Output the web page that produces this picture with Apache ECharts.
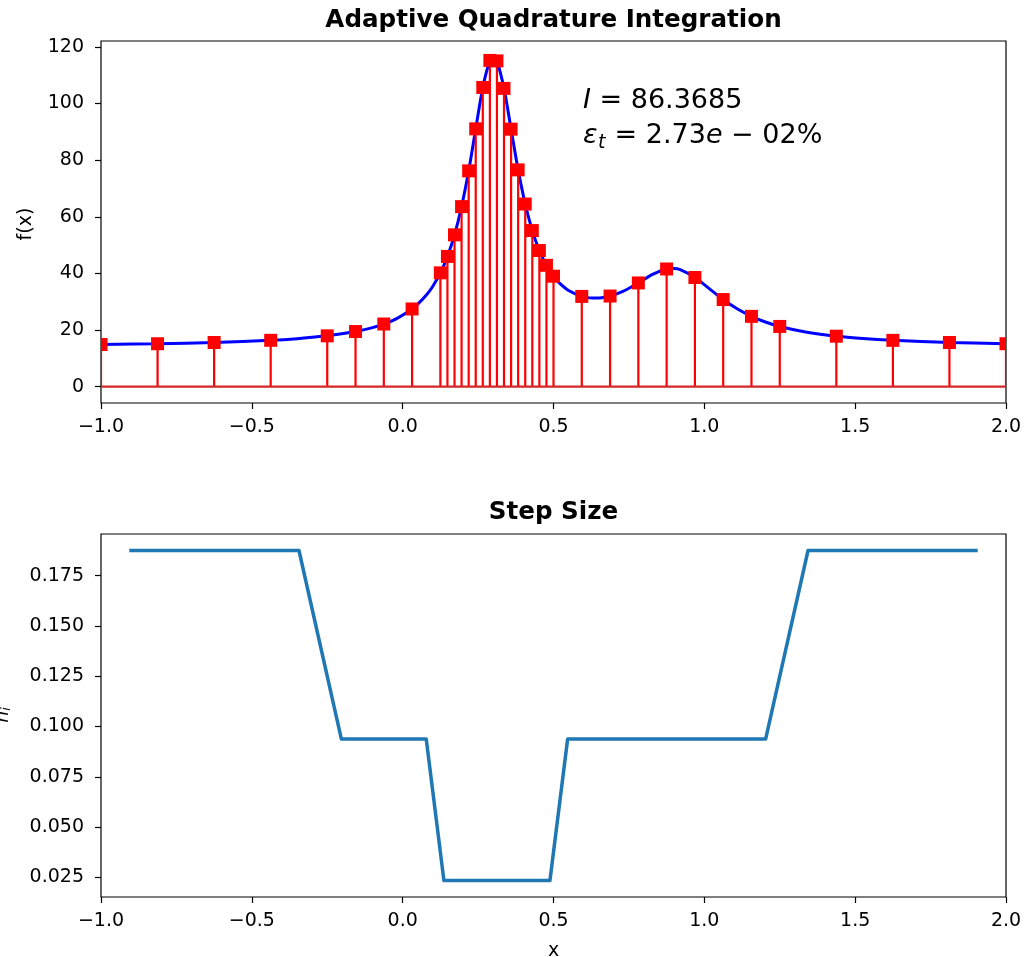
<!DOCTYPE html>
<html>
<head>
<meta charset="utf-8">
<script src="https://cdn.jsdelivr.net/npm/echarts@6/dist/echarts.min.js"></script>
<style>
  html, body { margin: 0; padding: 0; background: #fff; }
  #chart { width: 1034px; height: 957px; }
</style>
</head>
<body>
<div id="chart"></div>
<script>
// quadrature nodes and f(x) at each node
const nodeX = [-1, -0.8125, -0.625, -0.4375, -0.25, -0.15625, -0.0625, 0.03125,
  0.125, 0.1484, 0.1719, 0.1953, 0.2188, 0.2422, 0.2656, 0.2891, 0.3125, 0.3359,
  0.3594, 0.3828, 0.4063, 0.4297, 0.4531, 0.4766, 0.5,
  0.59375, 0.6875, 0.78125, 0.875, 0.96875, 1.0625, 1.15625, 1.25,
  1.4375, 1.625, 1.8125, 2];
const nodeY = [14.86, 15.14, 15.58, 16.35, 17.93, 19.45, 22.11, 27.42,
  40.18, 45.98, 53.61, 63.58, 76.22, 91.06, 105.69, 115.24, 115.06, 105.35,
  90.95, 76.57, 64.50, 55.12, 48.07, 42.85, 39.0,
  31.86, 31.99, 36.62, 41.55, 38.55, 30.75, 24.81, 21.25,
  17.81, 16.33, 15.58, 15.15];

// the blue curve
const curveX = [-1, -0.8125, -0.625, -0.4375, -0.35, -0.25, -0.15625, -0.1, -0.0625, -0.02,
  0.03125, 0.05, 0.08, 0.1, 0.125, 0.1484, 0.1719, 0.1953, 0.2188, 0.2422, 0.2656,
  0.2891, 0.3, 0.3125, 0.3359, 0.3594, 0.3828, 0.4063, 0.4297, 0.4531, 0.4766, 0.5,
  0.52, 0.55, 0.59375, 0.62, 0.64, 0.66, 0.6875, 0.73, 0.78125, 0.83, 0.875, 0.9, 0.92,
  0.96875, 1.01, 1.0625, 1.11, 1.15625, 1.2, 1.25, 1.34, 1.4375, 1.55, 1.625, 1.8125, 2];
const curveY = [14.86, 15.14, 15.58, 16.35, 16.94, 17.93, 19.45, 20.84, 22.11, 24.03,
  27.42, 29.11, 32.53, 35.47, 40.18, 45.98, 53.61, 63.58, 76.22, 91.06, 105.69,
  115.24, 116.5, 115.06, 105.35, 90.95, 76.57, 64.50, 55.12, 48.07, 42.85, 39.0,
  36.54, 33.95, 31.86, 31.34, 31.26, 31.41, 31.99, 33.65, 36.62, 39.71, 41.55, 41.70, 41.29,
  38.55, 35.14, 30.75, 27.39, 24.81, 22.91, 21.25, 19.20, 17.81, 16.80, 16.33, 15.58, 15.15];

// step size per interval, plotted at interval midpoints
const stepX = [-0.90625, -0.71875, -0.53125, -0.34375,
  -0.203125, -0.109375, -0.015625, 0.078125,
  0.13671875, 0.16015625, 0.18359375, 0.20703125, 0.23046875, 0.25390625, 0.27734375, 0.30078125,
  0.32421875, 0.34765625, 0.37109375, 0.39453125, 0.41796875, 0.44140625, 0.46484375, 0.48828125,
  0.546875, 0.640625, 0.734375, 0.828125, 0.921875, 1.015625, 1.109375, 1.203125,
  1.34375, 1.53125, 1.71875, 1.90625];
const stepH = [0.1875, 0.1875, 0.1875, 0.1875,
  0.09375, 0.09375, 0.09375, 0.09375,
  0.0234375, 0.0234375, 0.0234375, 0.0234375, 0.0234375, 0.0234375, 0.0234375, 0.0234375,
  0.0234375, 0.0234375, 0.0234375, 0.0234375, 0.0234375, 0.0234375, 0.0234375, 0.0234375,
  0.09375, 0.09375, 0.09375, 0.09375, 0.09375, 0.09375, 0.09375, 0.09375,
  0.1875, 0.1875, 0.1875, 0.1875];

const xTicks = [-1, -0.5, 0, 0.5, 1, 1.5, 2];
const topYTicks = [0, 20, 40, 60, 80, 100, 120];
const bottomYTicks = [0.025, 0.05, 0.075, 0.1, 0.125, 0.15, 0.175];

const FONT = 'DejaVu Sans';
const TICK_SIZE = 19;

function minus (v, digits) {
  const s = Math.abs(v).toFixed(digits);
  return v < 0 ? '\u2212' + s : s;
}

function xAxisCfg (idx) {
  return {
    type: 'value', gridIndex: idx, min: -1, max: 2, position: 'bottom',
    axisLine: { show: false, onZero: false },
    axisTick: { show: true, customValues: xTicks, length: 6, lineStyle: { color: '#000', width: 1.2 } },
    axisLabel: {
      customValues: xTicks, margin: 15, color: '#000', fontFamily: FONT, fontSize: TICK_SIZE,
      formatter: v => minus(v, 1)
    },
    splitLine: { show: false }
  };
}

function yAxisCfg (idx, min, max, ticks, digits) {
  return {
    type: 'value', gridIndex: idx, min: min, max: max, position: 'left',
    axisLine: { show: false, onZero: false },
    axisTick: { show: true, customValues: ticks, length: 6, lineStyle: { color: '#000', width: 1.2 } },
    axisLabel: {
      customValues: ticks, margin: 17, color: '#000', fontFamily: FONT, fontSize: TICK_SIZE,
      formatter: v => minus(v, digits)
    },
    splitLine: { show: false }
  };
}

const chart = echarts.init(document.getElementById('chart'), null, { renderer: 'canvas' });

chart.setOption({
  animation: false,
  backgroundColor: '#fff',
  grid: [
    { left: 101, top: 41, width: 905, height: 362, show: true, borderColor: '#000', borderWidth: 1.2, backgroundColor: 'transparent' },
    { left: 101, top: 534, width: 905, height: 363, show: true, borderColor: '#000', borderWidth: 1.2, backgroundColor: 'transparent' }
  ],
  xAxis: [xAxisCfg(0), xAxisCfg(1)],
  yAxis: [
    yAxisCfg(0, -5.8, 122.1, topYTicks, 0),
    yAxisCfg(1, 0.01523, 0.1957, bottomYTicks, 3)
  ],
  series: [
    {
      type: 'line', xAxisIndex: 0, yAxisIndex: 0, z: 2,
      data: curveX.map((x, i) => [x, curveY[i]]),
      showSymbol: false, smooth: 0.3,
      lineStyle: { color: '#0000ff', width: 3 }
    },
    {
      // stems
      type: 'custom', xAxisIndex: 0, yAxisIndex: 0, z: 3, clip: true,
      data: nodeX.map((x, i) => [x, nodeY[i]]),
      renderItem: (params, api) => {
        const p0 = api.coord([api.value(0), 0]);
        const p1 = api.coord([api.value(0), api.value(1)]);
        return {
          type: 'line',
          shape: { x1: p0[0], y1: p0[1], x2: p1[0], y2: p1[1] },
          style: { stroke: '#ff0000', lineWidth: 2.2 }
        };
      }
    },
    {
      // square markers
      type: 'custom', xAxisIndex: 0, yAxisIndex: 0, z: 4, clip: true,
      data: nodeX.map((x, i) => [x, nodeY[i]]),
      renderItem: (params, api) => {
        const p = api.coord([api.value(0), api.value(1)]);
        return {
          type: 'rect',
          shape: { x: p[0] - 6.5, y: p[1] - 6.5, width: 13, height: 13 },
          style: { fill: '#ff0000' }
        };
      }
    },
    {
      // baseline
      type: 'line', xAxisIndex: 0, yAxisIndex: 0, z: 5,
      data: [[-1, 0], [2, 0]],
      showSymbol: false,
      lineStyle: { color: '#d62728', width: 2.2 }
    },
    {
      type: 'line', xAxisIndex: 1, yAxisIndex: 1,
      data: stepX.map((x, i) => [x, stepH[i]]),
      showSymbol: false,
      lineStyle: { color: '#1f77b4', width: 3.5, join: 'round' }
    }
  ],
  graphic: [
    {
      type: 'text', x: 553.5, y: 21,
      style: { text: 'Adaptive Quadrature Integration', fontFamily: FONT, fontWeight: 'bold', fontSize: 24.6,
        fill: '#000', textAlign: 'center', textVerticalAlign: 'middle' }
    },
    {
      type: 'text', x: 553.5, y: 513,
      style: { text: 'Step Size', fontFamily: FONT, fontWeight: 'bold', fontSize: 24.6,
        fill: '#000', textAlign: 'center', textVerticalAlign: 'middle' }
    },
    {
      type: 'text', x: 26.5, y: 224, rotation: Math.PI / 2,
      style: { text: 'f(x)', fontFamily: FONT, fontSize: TICK_SIZE, fill: '#000',
        textAlign: 'center', textVerticalAlign: 'middle' }
    },
    {
      type: 'text', x: 3, y: 715, rotation: Math.PI / 2,
      style: {
        text: '{h|h}{i|i}', fill: '#000', textAlign: 'center', textVerticalAlign: 'middle',
        rich: {
          h: { fontFamily: FONT, fontStyle: 'italic', fontSize: TICK_SIZE },
          i: { fontFamily: FONT, fontStyle: 'italic', fontSize: 13, padding: [8, 0, 0, 0] }
        }
      }
    },
    {
      type: 'text', x: 553.5, y: 951,
      style: { text: 'x', fontFamily: FONT, fontSize: TICK_SIZE, fill: '#000',
        textAlign: 'center', textVerticalAlign: 'middle' }
    },
    {
      type: 'text', x: 583, y: 101,
      style: {
        text: '{it|I}{n| = 86.3685}', fill: '#000', textAlign: 'left', textVerticalAlign: 'middle',
        rich: {
          it: { fontFamily: FONT, fontStyle: 'italic', fontSize: 27 },
          n: { fontFamily: FONT, fontSize: 27 }
        }
      }
    },
    {
      type: 'text', x: 583, y: 136,
      style: { text: '\u03b5', fontFamily: FONT, fontStyle: 'italic', fontSize: 27, fill: '#000',
        textAlign: 'left', textVerticalAlign: 'middle' }
    },
    {
      type: 'text', x: 598, y: 143,
      style: { text: 't', fontFamily: FONT, fontStyle: 'italic', fontSize: 19, fill: '#000',
        textAlign: 'left', textVerticalAlign: 'middle' }
    },
    {
      type: 'text', x: 606, y: 136,
      style: {
        text: '{n| = 2.73}{it|e}{n| \u2212 02%}', fill: '#000', textAlign: 'left', textVerticalAlign: 'middle',
        rich: {
          it: { fontFamily: FONT, fontStyle: 'italic', fontSize: 27 },
          n: { fontFamily: FONT, fontSize: 27 }
        }
      }
    }
  ]
});
</script>
</body>
</html>
